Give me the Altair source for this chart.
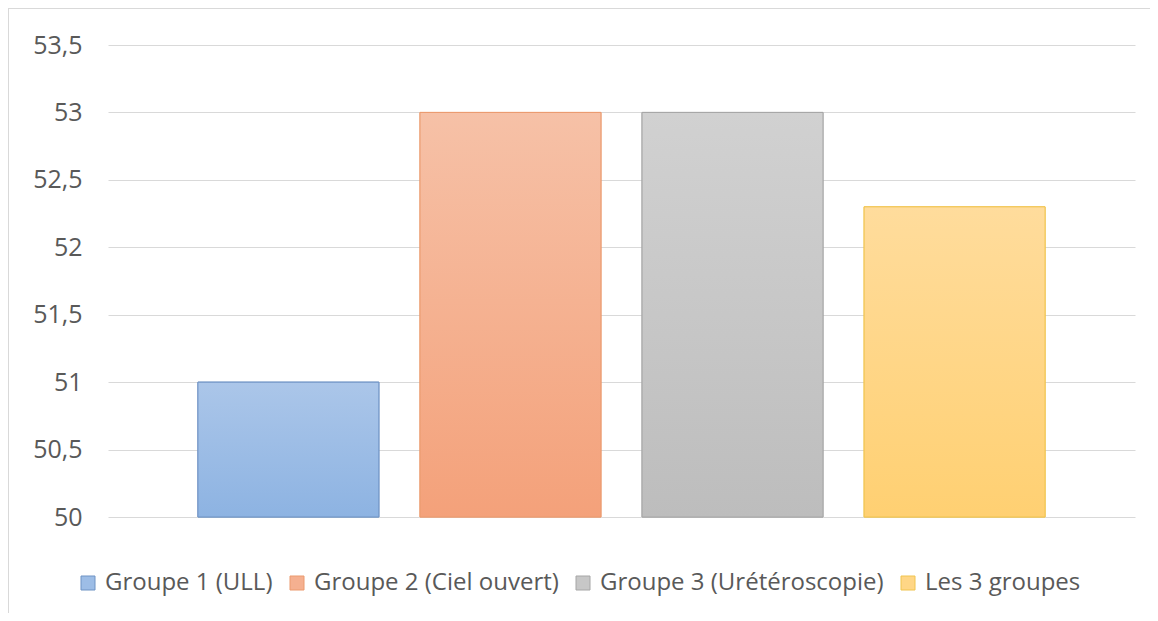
import altair as alt
import pandas as pd

series = ["Groupe 1 (ULL)", "Groupe 2 (Ciel ouvert)", "Groupe 3 (Urétéroscopie)", "Les 3 groupes"]
values = [51, 53, 53, 52.3]
top_colors = ["#abc6e9", "#f6c1a7", "#d1d1d1", "#ffdc9c"]
bottom_colors = ["#8db3e2", "#f4a17a", "#bdbdbd", "#ffd072"]
mid_colors = ["#9dbde6", "#f5b090", "#c7c7c7", "#ffd686"]
stroke_colors = ["#6f93c4", "#eb9a6e", "#a6a6a6", "#f0c44f"]

df = pd.DataFrame({"series": series, "value": values})

FONT = "Open Sans"
TXT = "#595959"

x_enc = alt.X("series:N", sort=series, axis=None,
              scale=alt.Scale(paddingInner=0.185, paddingOuter=0.405))
y_enc = alt.Y("value:Q",
              scale=alt.Scale(domain=[50, 53.5], zero=False, nice=False),
              axis=alt.Axis(values=[50, 50.5, 51, 51.5, 52, 52.5, 53, 53.5],
                            labelExpr="replace(format(datum.value, '.1~f'), '.', ',')",
                            domain=False, ticks=False, labelPadding=26,
                            labelFont=FONT, labelFontSize=25, labelColor=TXT,
                            gridColor="#d9d9d9", gridWidth=1),
              title=None)

base = alt.Chart(df).mark_bar(strokeWidth=1).encode(
    x=x_enc,
    y=y_enc,
    y2=alt.Y2(datum=50),
    color=alt.Color("series:N", sort=series,
                    scale=alt.Scale(domain=series, range=mid_colors),
                    legend=alt.Legend(orient="none", direction="horizontal",
                                      legendX=-32, legendY=526, title=None,
                                      symbolType="square", symbolSize=196,
                                      symbolStrokeWidth=1, labelLimit=0,
                                      labelFont=FONT, labelFontSize=24, labelColor=TXT,
                                      labelOffset=5, columnPadding=12)),
    stroke=alt.Stroke("series:N", sort=series,
                      scale=alt.Scale(domain=series, range=stroke_colors),
                      legend=None),
)

layers = [base]
for s, t, b, st in zip(series, top_colors, bottom_colors, stroke_colors):
    grad = alt.LinearGradient(gradient="linear", x1=0, x2=0, y1=0, y2=1,
                              stops=[alt.GradientStop(color=t, offset=0),
                                     alt.GradientStop(color=b, offset=1)])
    layers.append(
        alt.Chart(df).transform_filter(alt.datum.series == s)
        .mark_bar(fill=grad, stroke=st, strokeWidth=1)
        .encode(x=x_enc, y=alt.Y("value:Q"), y2=alt.Y2(datum=50))
    )

one = pd.DataFrame({"a": [0]})
frame_left = alt.Chart(one).mark_rule(color="#d9d9d9", strokeWidth=1).encode(
    x=alt.value(-99.5), y=alt.value(-37), y2=alt.value(576))
frame_top = alt.Chart(one).mark_rule(color="#d9d9d9", strokeWidth=1).encode(
    x=alt.value(-100), x2=alt.value(1042), y=alt.value(-36.5))

chart = alt.layer(*layers, frame_left, frame_top).properties(
    width=1027, height=472,
    background="white",
    autosize=alt.AutoSizeParams(type="none"),
    padding={"left": 100, "top": 37, "right": 15, "bottom": 96},
).configure_view(strokeWidth=0, stroke=None)

chart.save("out.html", embed_options={"renderer": "svg", "actions": False})
